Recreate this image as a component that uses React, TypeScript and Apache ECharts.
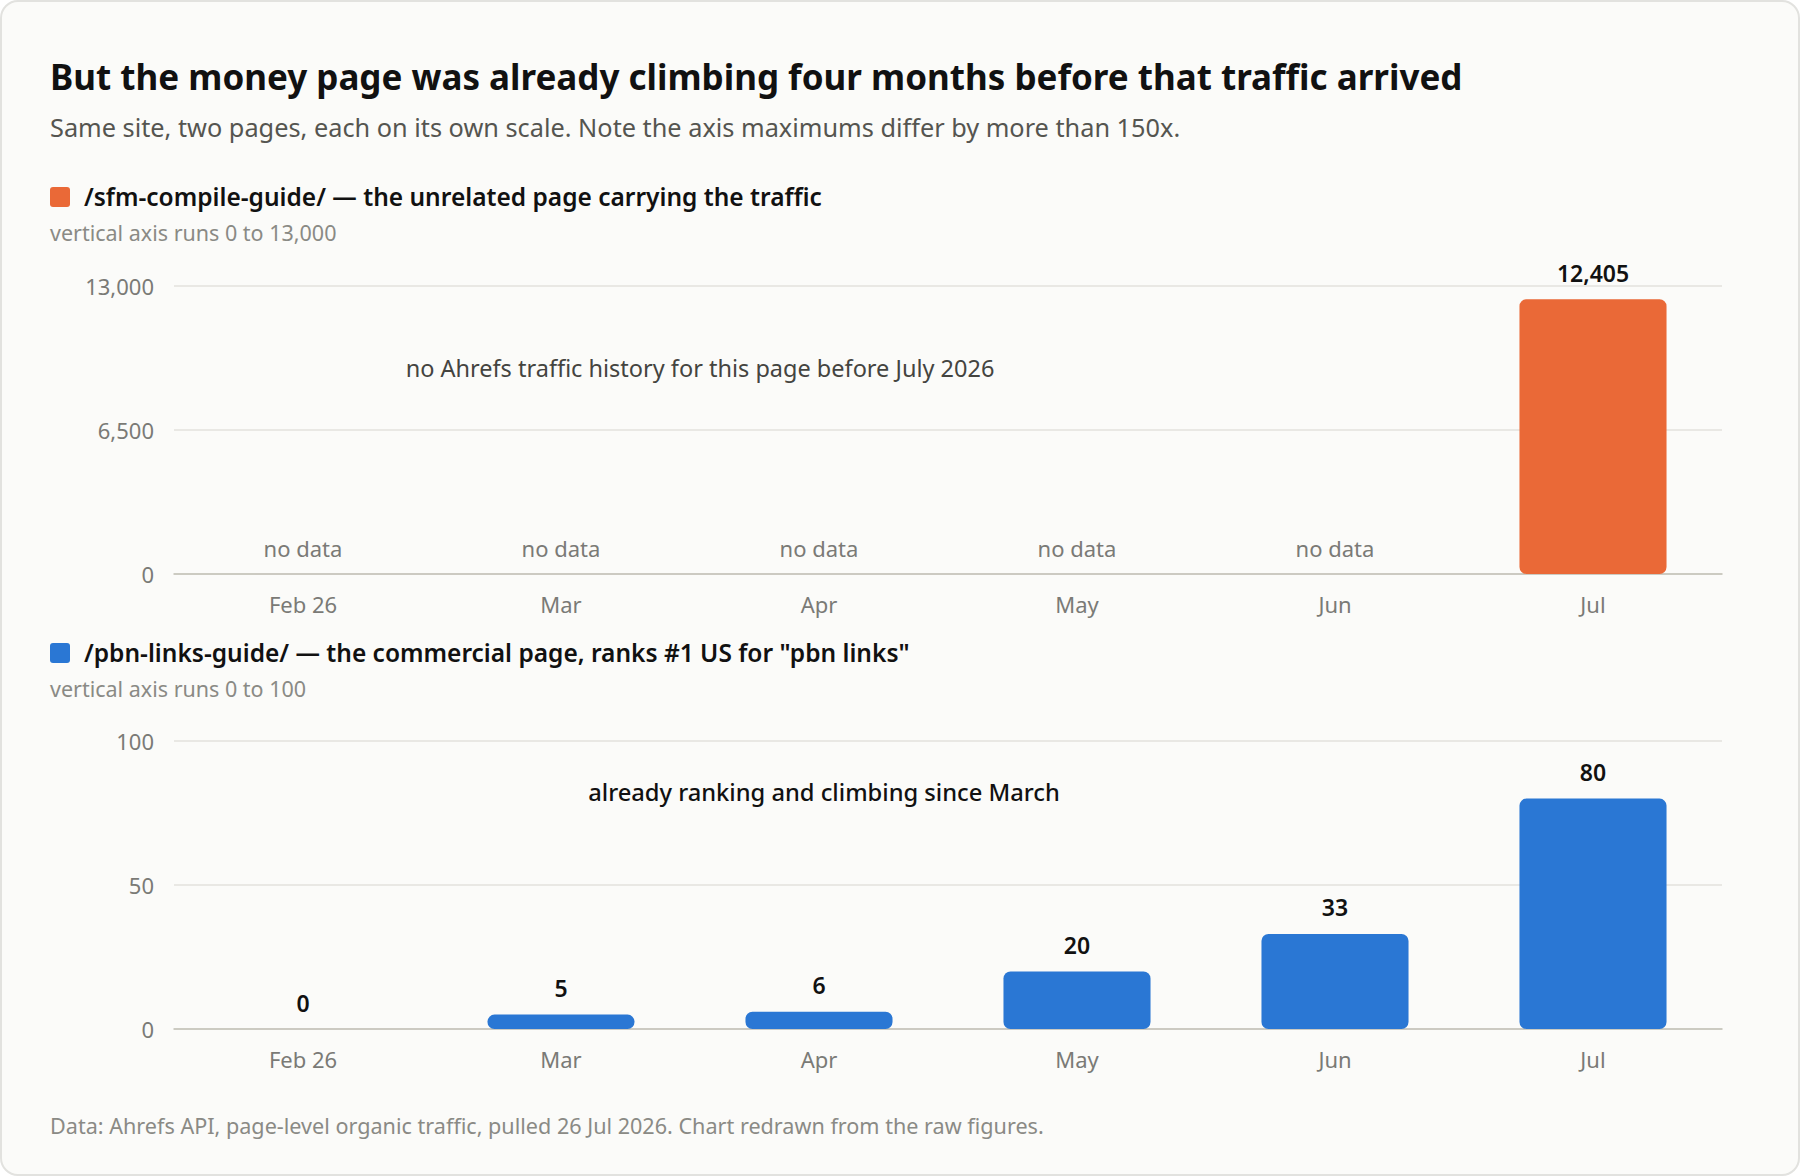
import { useEffect, useRef } from "react";
import * as echarts from "echarts";

const months = ["Feb 26", "Mar", "Apr", "May", "Jun", "Jul"];
// null = Ahrefs has no history for that month
const sfmTraffic: Array<number | null> = [null, null, null, null, null, 12405];
const pbnTraffic = [0, 5, 6, 20, 33, 80];
const sfmAxis = { max: 13000, step: 6500 };
const pbnAxis = { max: 100, step: 50 };

const FONT = '"Noto Sans", "Open Sans", sans-serif';
const ORANGE = "#ea6937";
const BLUE = "#2a77d4";
const INK = "#111111";
const MUTED = "#7a7a76";
const SOFT = "#8a8a85";

function fmt(v: number) {
  return v.toLocaleString("en-US");
}

function panelAxes(gridIndex: number, max: number, step: number) {
  return {
    x: {
      type: "category" as const,
      gridIndex,
      data: months,
      axisTick: { show: false },
      axisLine: { lineStyle: { color: "#c2c1b7", width: 1.5 } },
      axisLabel: { color: MUTED, fontSize: 22, fontFamily: FONT, margin: 19 },
    },
    y: {
      type: "value" as const,
      gridIndex,
      min: 0,
      max,
      interval: step,
      axisLine: { show: false },
      axisTick: { show: false },
      axisLabel: { color: MUTED, fontSize: 22, fontFamily: FONT, margin: 20, formatter: (v: number) => fmt(v) },
      splitLine: { lineStyle: { color: "#e3e2dc", width: 1.5 } },
    },
  };
}

const valueLabel = {
  show: true,
  position: "top" as const,
  distance: 15,
  color: INK,
  fontSize: 23,
  fontWeight: 600,
  fontFamily: FONT,
  formatter: (p: { value: number }) => fmt(p.value),
};

function line(text: string, x: number, y: number, fill: string, font: string, align: "left" | "center" = "left") {
  return { type: "text" as const, x, y, style: { text, fill, font, align, verticalAlign: "middle" as const } };
}

function buildOption(): echarts.EChartsOption {
  const top = panelAxes(0, sfmAxis.max, sfmAxis.step);
  const bottom = panelAxes(1, pbnAxis.max, pbnAxis.step);
  return {
    animation: false,
    backgroundColor: "transparent",
    grid: [
      { left: 174, right: 78, top: 286, height: 288 },
      { left: 174, right: 78, top: 741, height: 288 },
    ],
    xAxis: [top.x, bottom.x],
    yAxis: [top.y, bottom.y],
    series: [
      {
        type: "bar",
        xAxisIndex: 0,
        yAxisIndex: 0,
        data: sfmTraffic,
        barWidth: "57%",
        itemStyle: { color: ORANGE, borderRadius: 7 },
        label: valueLabel,
      },
      {
        type: "bar",
        xAxisIndex: 0,
        yAxisIndex: 0,
        data: sfmTraffic.map((v) => (v == null ? 0 : null)),
        barWidth: "57%",
        barGap: "-100%",
        itemStyle: { color: "transparent" },
        label: {
          show: true,
          position: "top",
          distance: 15,
          color: MUTED,
          fontSize: 22,
          fontFamily: FONT,
          formatter: "no data",
        },
      },
      {
        type: "bar",
        xAxisIndex: 1,
        yAxisIndex: 1,
        data: pbnTraffic,
        barWidth: "57%",
        itemStyle: { color: BLUE, borderRadius: 7 },
        label: valueLabel,
      },
    ],
    graphic: [
      line("But the money page was already climbing four months before that traffic arrived", 50, 76, INK, `700 35px ${FONT}`),
      line("Same site, two pages, each on its own scale. Note the axis maximums differ by more than 150x.", 50, 127, "#555550", `400 25.3px ${FONT}`),
      { type: "rect", left: 50, top: 187, shape: { width: 20, height: 20, r: 3 }, style: { fill: ORANGE } },
      line("/sfm-compile-guide/ \u2014 the unrelated page carrying the traffic", 84, 196, INK, `600 24.5px ${FONT}`),
      line("vertical axis runs 0 to 13,000", 50, 232, SOFT, `400 21.5px ${FONT}`),
      line("no Ahrefs traffic history for this page before July 2026", 700, 368, "#444440", `400 23.5px ${FONT}`, "center"),
      { type: "rect", left: 50, top: 643, shape: { width: 20, height: 20, r: 3 }, style: { fill: BLUE } },
      line('/pbn-links-guide/ \u2014 the commercial page, ranks #1 US for "pbn links"', 84, 652, INK, `600 24.5px ${FONT}`),
      line("vertical axis runs 0 to 100", 50, 688, SOFT, `400 21.5px ${FONT}`),
      line("already ranking and climbing since March", 824, 792, INK, `500 23.7px ${FONT}`, "center"),
      line("Data: Ahrefs API, page-level organic traffic, pulled 26 Jul 2026. Chart redrawn from the raw figures.", 50, 1125, SOFT, `400 21.6px ${FONT}`),
    ],
  };
}

export default function App() {
  const nodeRef = useRef<HTMLDivElement | null>(null);

  useEffect(() => {
    if (!nodeRef.current) return;
    const chart = echarts.init(nodeRef.current, undefined, { renderer: "svg" });
    chart.setOption(buildOption());
    return () => chart.dispose();
  }, []);

  return (
    <div
      style={{
        position: "absolute",
        left: 0,
        top: 0,
        width: 1800,
        height: 1176,
        boxSizing: "border-box",
        border: "2px solid #e2e2df",
        borderRadius: 18,
        background: "#fbfbf9",
        overflow: "hidden",
      }}
    >
      <div ref={nodeRef} style={{ position: "absolute", left: -2, top: -2, width: 1800, height: 1176 }} />
    </div>
  );
}
